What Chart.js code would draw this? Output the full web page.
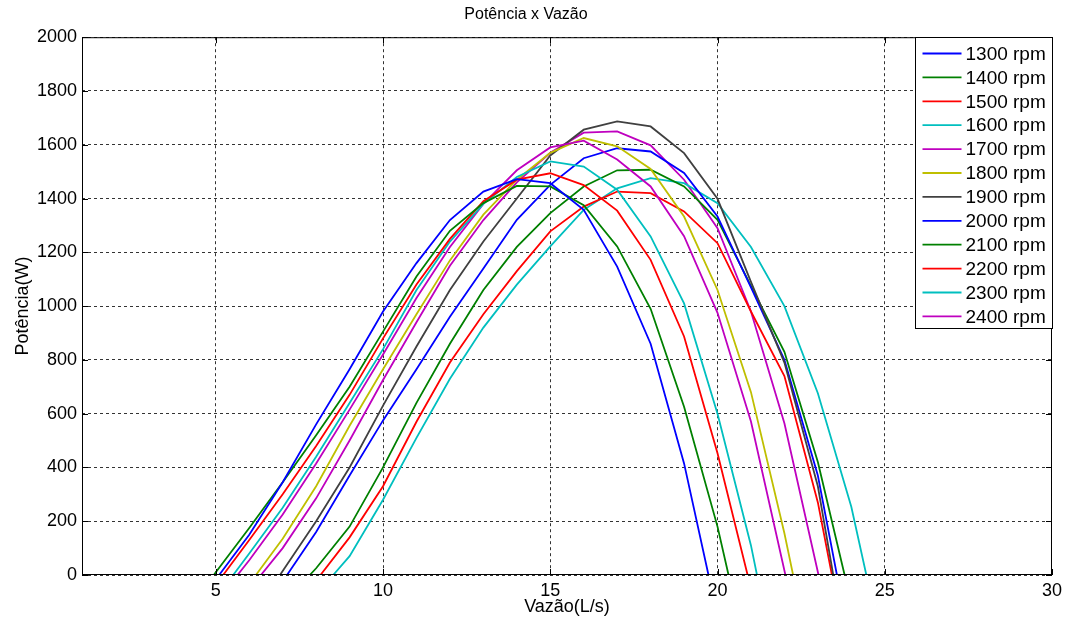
<!DOCTYPE html>
<html lang="pt-BR">
<head>
<meta charset="utf-8">
<title>Potência x Vazão</title>
<script src="https://cdn.jsdelivr.net/npm/chart.js@4.4.1/dist/chart.umd.min.js"></script>
<style>
  html, body { margin: 0; padding: 0; background: #fff; }
  canvas { display: block; }
</style>
</head>
<body>
<canvas id="grafico" width="1067" height="621"></canvas>
<script>
// vazão (L/s) nos pontos inteiros da curva
const vazao = [5, 6, 7, 8, 9, 10, 11, 12, 13, 14, 15, 16, 17, 18, 19, 20, 21, 22, 23, 24];

const rotacoes = ['1300 rpm', '1400 rpm', '1500 rpm', '1600 rpm', '1700 rpm', '1800 rpm',
                  '1900 rpm', '2000 rpm', '2100 rpm', '2200 rpm', '2300 rpm', '2400 rpm'];

// vazão onde a potência sai do zero e onde volta a zero
const inicio = [5.10, 4.94, 5.22, 5.52, 5.65, 6.20, 6.92, 7.13, 7.81, 8.13, 8.51, 6.35];
const fim    = [19.73, 20.33, 20.90, 21.18, 22.03, 22.26, 23.46, 23.57, 23.80, 23.42, 24.45, 23.02];

// potência (W) em cada vazão inteira, null fora da faixa
const p1300 = [null, 150, 345, 560, 765, 980, 1160, 1320, 1426, 1472, 1457, 1358, 1147, 860, 415, null, null, null, null, null];
const p1400 = [10, 175, 345, 520, 700, 905, 1110, 1280, 1383, 1447, 1445, 1375, 1222, 990, 626, 180, null, null, null, null];
const p1500 = [null, 130, 300, 480, 670, 880, 1080, 1250, 1390, 1470, 1494, 1450, 1355, 1172, 887, 453, null, null, null, null];
const p1600 = [null, 80, 250, 440, 640, 840, 1060, 1240, 1380, 1480, 1538, 1519, 1433, 1259, 1010, 600, 110, null, null, null];
const p1700 = [null, 55, 225, 415, 615, 820, 1030, 1220, 1380, 1505, 1590, 1615, 1545, 1445, 1260, 975, 571, null, null, null];
const p1800 = [null, null, 135, 330, 555, 765, 970, 1170, 1340, 1470, 1570, 1625, 1594, 1510, 1333, 1060, 680, 155, null, null];
const p1900 = [null, null, 15, 200, 400, 630, 850, 1060, 1240, 1400, 1560, 1656, 1687, 1668, 1569, 1399, 1090, 790, 330, null];
const p2000 = [null, null, null, 160, 370, 575, 765, 960, 1140, 1321, 1451, 1550, 1587, 1575, 1495, 1333, 1070, 800, 370, null];
const p2100 = [null, null, null, 25, 180, 400, 640, 860, 1060, 1220, 1346, 1445, 1505, 1507, 1445, 1321, 1075, 830, 420, null];
const p2200 = [null, null, null, null, 140, 330, 570, 790, 970, 1130, 1278, 1370, 1426, 1420, 1352, 1234, 980, 740, 270, null];
const p2300 = [null, null, null, null, 70, 280, 510, 730, 920, 1080, 1222, 1358, 1438, 1476, 1457, 1383, 1220, 1000, 676, 254];
const p2400 = [null, null, 100, 285, 500, 725, 940, 1150, 1320, 1460, 1570, 1645, 1650, 1598, 1470, 1290, 980, 564, null, null];

const potencias = [p1300, p1400, p1500, p1600, p1700, p1800, p1900, p2000, p2100, p2200, p2300, p2400];

// marcas dos eixos
const ticksX = [5, 10, 15, 20, 25, 30];
const ticksY = [0, 200, 400, 600, 800, 1000, 1200, 1400, 1600, 1800, 2000];

// ciclo de cores do matlab
const cores = ['#0000ff', '#008000', '#ff0000', '#00bfbf', '#bf00bf', '#bfbf00', '#404040'];

const fonte = '"Liberation Sans", Arial, Helvetica, sans-serif';
Chart.defaults.font.family = fonte;
Chart.defaults.color = '#000';

function montaSerie(i) {
    const pts = [{ x: inicio[i], y: 0 }];
    potencias[i].forEach((p, k) => {
        if (p !== null) pts.push({ x: vazao[k], y: p });
    });
    pts.push({ x: fim[i], y: 0 });
    return pts;
}

const datasets = rotacoes.map((nome, i) => ({
    label: nome,
    data: montaSerie(i),
    borderColor: cores[i % cores.length],
    borderWidth: 1.8,
    showLine: true,
    pointRadius: 0,
    tension: 0,
    fill: false
}));

// caixa dos eixos, marcas internas e legenda
const moldura = {
    id: 'moldura',
    afterDraw(chart) {
        const { ctx, chartArea: a, scales: { x, y } } = chart;
        ctx.save();
        ctx.strokeStyle = '#000';
        ctx.lineWidth = 1;
        ctx.setLineDash([]);
        ctx.strokeRect(a.left + 0.5, a.top + 0.5, a.right - a.left - 1, a.bottom - a.top - 1);

        ctx.beginPath();
        ticksX.forEach(v => {
            const px = Math.round(x.getPixelForValue(v)) + 0.5;
            ctx.moveTo(px, a.bottom); ctx.lineTo(px, a.bottom - 6);
            ctx.moveTo(px, a.top); ctx.lineTo(px, a.top + 6);
        });
        ticksY.forEach(v => {
            const py = Math.round(y.getPixelForValue(v)) + 0.5;
            ctx.moveTo(a.left, py); ctx.lineTo(a.left + 6, py);
            ctx.moveTo(a.right, py); ctx.lineTo(a.right - 6, py);
        });
        ctx.stroke();

        // legenda
        const larg = 137, alt = 291;
        const lx = Math.round(a.right - larg) + 0.5, ly = Math.round(a.top) + 0.5;
        ctx.fillStyle = '#fff';
        ctx.fillRect(lx, ly, larg, alt);
        ctx.strokeRect(lx, ly, larg, alt);
        ctx.font = '19px ' + fonte;
        ctx.textBaseline = 'middle';
        ctx.textAlign = 'left';
        chart.data.datasets.forEach((ds, i) => {
            const yy = ly + 16 + i * 23.9;
            ctx.strokeStyle = ds.borderColor;
            ctx.lineWidth = 1.8;
            ctx.beginPath();
            ctx.moveTo(lx + 7, yy);
            ctx.lineTo(lx + 46, yy);
            ctx.stroke();
            ctx.fillStyle = '#000';
            ctx.fillText(ds.label, lx + 50, yy + 1);
        });
        ctx.restore();
    }
};

const grade = {
    color: 'rgba(0,0,0,0.8)',
    lineWidth: 1,
    drawTicks: false
};

new Chart(document.getElementById('grafico'), {
    type: 'scatter',
    data: { datasets },
    options: {
        responsive: false,
        animation: false,
        layout: { padding: { left: 0, right: 15, top: 0, bottom: 0 } },
        scales: {
            x: {
                type: 'linear',
                min: 1,
                max: 30,
                afterBuildTicks: s => { s.ticks = ticksX.map(v => ({ value: v })); },
                afterFit: s => { s.height = 46; },
                grid: grade,
                border: { display: false, dash: [3, 3] },
                ticks: { font: { size: 18 }, padding: 5, maxRotation: 0, callback: v => String(v) },
                title: { display: true, text: 'Vazão(L/s)', font: { size: 18 }, padding: { top: 0, bottom: 3 } }
            },
            y: {
                type: 'linear',
                min: 0,
                max: 2000,
                afterBuildTicks: s => { s.ticks = ticksY.map(v => ({ value: v })); },
                afterFit: s => { s.width = 82; },
                grid: grade,
                border: { display: false, dash: [3, 3] },
                ticks: { font: { size: 18 }, padding: 5, callback: v => String(v) },
                title: { display: true, text: 'Potência(W)', font: { size: 18 }, padding: { top: 12, bottom: 0 } }
            }
        },
        plugins: {
            legend: { display: false },
            tooltip: { enabled: false },
            title: {
                display: true,
                text: 'Potência x Vazão',
                font: { size: 16, weight: 'normal' },
                padding: { top: 5, bottom: 13 }
            }
        }
    },
    plugins: [moldura]
});
</script>
</body>
</html>
